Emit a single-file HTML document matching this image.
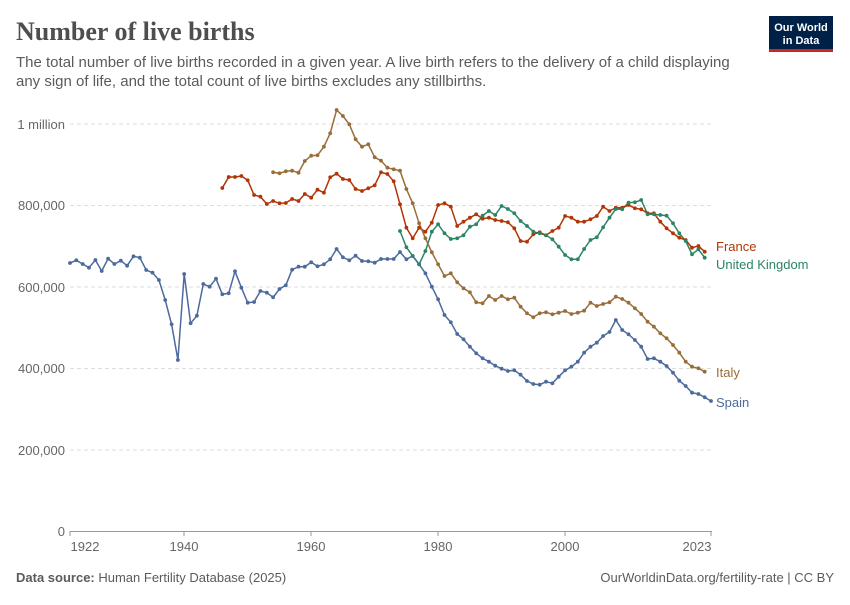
<!DOCTYPE html>
<html><head><meta charset="utf-8"><style>
body{margin:0;background:#fff;width:850px;height:600px;overflow:hidden;font-family:"Liberation Sans",sans-serif}
</style></head><body>
<svg id="s" width="850" height="600" xmlns="http://www.w3.org/2000/svg" font-family="Liberation Sans, sans-serif">
<text x="16" y="40" font-family="Liberation Serif, serif" font-size="26" font-weight="bold" fill="#4e4e4e">Number of live births</text>
<text x="16" y="67" font-size="15" fill="#5b5b5b">The total number of live births recorded in a given year. A live birth refers to the delivery of a child displaying</text>
<text x="16" y="86" font-size="15" fill="#5b5b5b">any sign of life, and the total count of live births excludes any stillbirths.</text>
<rect x="769" y="16" width="64" height="36" fill="#002147"/>
<rect x="769" y="49" width="64" height="3" fill="#ce261e"/>
<text x="801" y="31" font-size="11" fill="#fff" text-anchor="middle" font-weight="bold">Our World</text>
<text x="801" y="44" font-size="11" fill="#fff" text-anchor="middle" font-weight="bold">in Data</text>
<g stroke="#ddd" stroke-dasharray="4,3">
<line x1="70" x2="712" y1="124" y2="124"/><line x1="70" x2="712" y1="205.5" y2="205.5"/><line x1="70" x2="712" y1="287" y2="287"/><line x1="70" x2="712" y1="368.5" y2="368.5"/><line x1="70" x2="712" y1="450" y2="450"/>
</g>
<line x1="70" x2="712" y1="531.5" y2="531.5" stroke="#999"/>
<g font-size="13" fill="#666" text-anchor="end">
<text x="65" y="129">1 million</text><text x="65" y="210">800,000</text><text x="65" y="292">600,000</text><text x="65" y="373">400,000</text><text x="65" y="455">200,000</text><text x="65" y="536">0</text>
</g>
<g font-size="13" fill="#666" text-anchor="middle">
<text x="85" y="551">1922</text><text x="184" y="551">1940</text><text x="311" y="551">1960</text><text x="438" y="551">1980</text><text x="565" y="551">2000</text><text x="697" y="551">2023</text>
</g>
<g stroke="#999"><line x1="70" x2="70" y1="531" y2="536"/><line x1="184" x2="184" y1="531" y2="536"/><line x1="311" x2="311" y1="531" y2="536"/><line x1="438" x2="438" y1="531" y2="536"/><line x1="565" x2="565" y1="531" y2="536"/><line x1="711" x2="711" y1="531" y2="536"/></g>
<g font-size="13">
<text x="716" y="251" fill="#B13507">France</text>
<text x="716" y="269" fill="#2C8465">United Kingdom</text>
<text x="716" y="377" fill="#996D39">Italy</text>
<text x="716" y="407" fill="#4C6A9C">Spain</text>
</g>
<text x="16" y="582" font-size="13" fill="#5b5b5b"><tspan font-weight="bold">Data source:</tspan> Human Fertility Database (2025)</text>
<text x="834" y="582" font-size="13" fill="#5b5b5b" text-anchor="end">OurWorldinData.org/fertility-rate | CC BY</text>
<g id="d"></g>
</svg>
<script>
var X=function(y){return 70+(y-1922)*6.347};
var S={
"#4C6A9C":[1922,[263,260.3,264,267.7,260,271,258.7,264,260.7,265.7,256.3,257.7,270,272.7,280,300,324.3,360,274,323.3,315.7,284,286.7,278.7,294.3,293.3,271.3,287.7,302.7,302,291,292.7,297.3,289,285.3,269.7,266.7,266.7,262.3,266.3,264.3,259.3,249,257.3,260.3,255.7,261,261.3,262.7,259,259,259,252,259.3,256,264.3,273.3,286.7,299.3,315,322.3,334,339.3,346.7,353.3,358.3,361.7,365.7,368.7,371,370.3,374.7,381,384,384.7,381.7,383.3,376.7,370.3,366.7,361.7,352.7,346.7,342.7,336,332,320,330,334.3,340,346.7,359,358.3,361.7,366,372.7,380.7,386,392.7,394,397.3,401]],
"#996D39":[1954,[172.3,173.3,171.3,170.7,172.7,161,155.7,155.3,146.7,133.3,110,116,124.3,139.3,146.7,144.3,157.3,160.7,167.7,169.3,170.7,189,203.3,223.3,238.3,252.3,264.3,276,273.3,282.3,288.3,292.3,302.3,303.3,296,300,296,299.3,297.7,306.7,313.3,317.3,313.3,312.3,314.3,312.7,311,314,312.7,310.7,302.7,306,304,302.3,296.7,299,302.7,308.3,314,321.7,326.7,333.3,338.3,345,352.7,361.7,366.7,368.3,371.7]],
"#B13507":[1946,[188,177,177,176,180.3,195,196.7,204,201,203.3,203,199,201,194,197.7,189.7,192.7,177.3,173.7,179,180,189,191,188.3,185.3,172.3,174,181.3,204.3,227.7,238.3,227.7,231.7,222.7,205,203.3,206.7,226,221.7,217.7,214.3,218.7,217.7,220,221,222.3,228.3,241,241.7,234.3,232.3,235.3,231,227.7,216,217.7,221.7,221.7,219.3,216,206.7,211,207.7,207.7,205,208.3,209.3,213.3,213.3,221.7,228.3,233.3,237.7,240,247.7,246,251.7]],
"#2C8465":[1974,[231,247.3,256,264.3,251,231.7,224.3,233.3,239,238.3,235.3,226.7,224.3,215.7,211,215,206,209,213.3,221,226,231.7,233.3,235.3,239.3,246.7,255,259.3,259.3,249,240,237.3,227.3,217.7,209,209.3,202.7,202.3,200,214.3,214.3,215,215.7,223.3,233.3,241,254.3,249.3,257.7]]};
var h="";
for(var c in S){var y0=S[c][0],v=S[c][1],p=[];
for(var i=0;i<v.length;i++){var x=X(y0+i).toFixed(1);p.push(x+","+v[i]);h+='<circle cx="'+x+'" cy="'+v[i]+'" r="1.9" fill="'+c+'"/>';}
h='<polyline points="'+p.join(" ")+'" fill="none" stroke="'+c+'" stroke-width="1.5"/>'+h;}
document.getElementById("d").innerHTML=h;
</script>
</body></html>
